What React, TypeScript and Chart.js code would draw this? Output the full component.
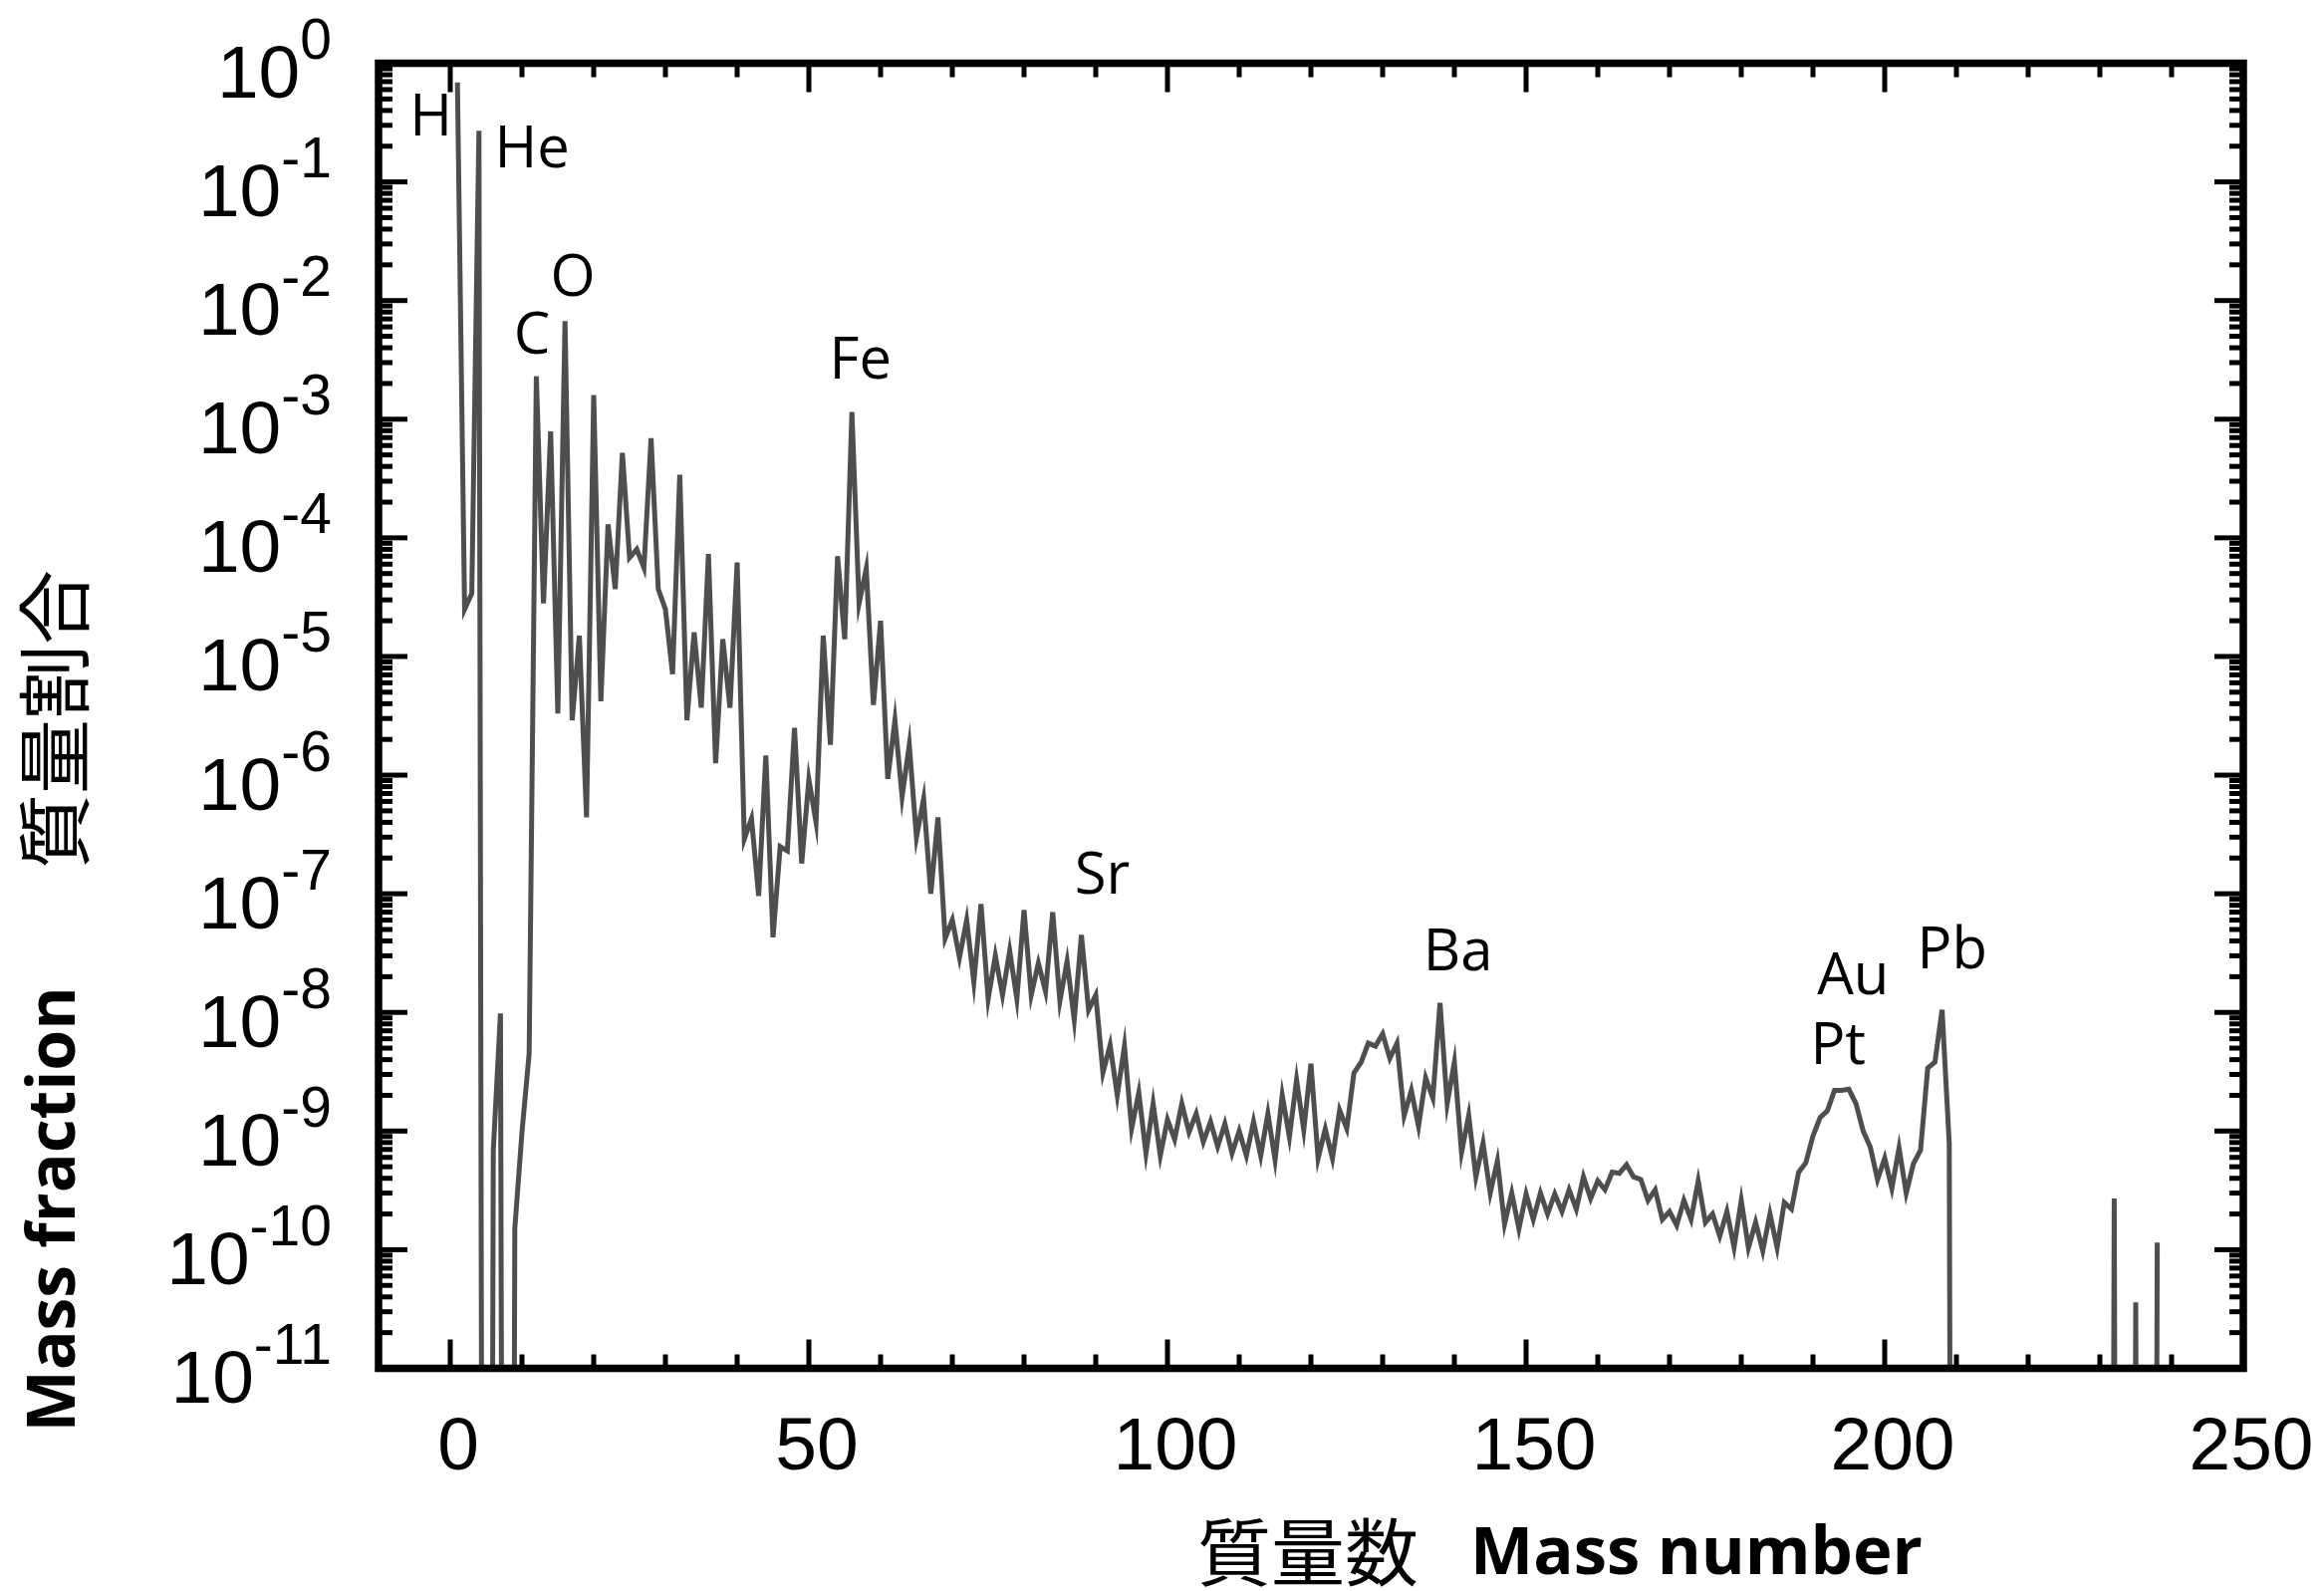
import React, { useEffect, useRef } from 'react';
import { Chart, registerables } from 'chart.js';

Chart.register(...registerables);

// Solar-system mass fraction for mass numbers A = 1 .. 238 (0 = none present)
const massFractions: number[] = [
  // 1-10
  0.69, 2.5e-5, 3.4e-5, 0.27, 0, 6.9e-10, 9.8e-9, 0, 1.5e-10, 9.8e-10,
  // 11-20
  4.5e-9, 2.3e-3, 2.8e-5, 7.9e-4, 3.3e-6, 6.7e-3, 2.9e-6, 1.5e-5, 4.4e-7, 1.6e-3,
  // 21-30
  4.2e-6, 1.3e-4, 3.7e-5, 5.2e-4, 6.8e-5, 8.0e-5, 5.6e-5, 6.9e-4, 3.7e-5, 2.5e-5,
  // 31-40
  7.1e-6, 3.4e-4, 2.9e-6, 1.6e-5, 3.7e-6, 7.3e-5, 1.26e-6, 1.4e-5, 3.7e-6, 6.2e-5,
  // 41-50
  2.9e-7, 4.3e-7, 9.6e-8, 1.46e-6, 4.3e-8, 2.5e-7, 2.3e-7, 2.5e-6, 1.8e-7, 9.2e-7,
  // 51-60
  4.0e-7, 1.5e-5, 1.8e-6, 7.0e-5, 1.4e-5, 1.15e-3, 2.8e-5, 5.5e-5, 3.9e-6, 2.0e-5,
  // 61-70
  9.3e-7, 2.9e-6, 6.6e-7, 1.8e-6, 3.0e-7, 6.3e-7, 1.0e-7, 4.4e-7, 4.2e-8, 6.0e-8,
  // 71-80
  2.9e-8, 6.0e-8, 1.8e-8, 8.2e-8, 1.3e-8, 3.0e-8, 1.4e-8, 3.3e-8, 1.3e-8, 7.3e-8,
  // 81-90
  1.4e-8, 2.6e-8, 1.5e-8, 7.0e-8, 1.25e-8, 2.7e-8, 8.7e-9, 4.5e-8, 1.05e-8, 1.4e-8,
  // 91-100
  3.1e-9, 5.3e-9, 2.0e-9, 5.2e-9, 1.05e-9, 2.1e-9, 6.5e-10, 1.7e-9, 6.2e-10, 1.25e-9,
  // 101-110
  8.5e-10, 1.7e-9, 9.8e-10, 1.4e-9, 8.1e-10, 1.2e-9, 7.4e-10, 1.15e-9, 6.5e-10, 1.0e-9,
  // 111-120
  6.2e-10, 1.2e-9, 6.2e-10, 1.4e-9, 5.7e-10, 2.0e-9, 8.9e-10, 2.7e-9, 1.02e-9, 3.7e-9,
  // 121-130
  5.9e-10, 1.04e-9, 5.9e-10, 1.5e-9, 1.05e-9, 3.1e-9, 3.8e-9, 5.5e-9, 5.2e-9, 6.6e-9,
  // 131-140
  4.1e-9, 5.5e-9, 1.35e-9, 2.2e-9, 1.1e-9, 2.8e-9, 1.9e-9, 1.2e-8, 1.7e-9, 3.8e-9,
  // 141-150
  6.6e-10, 1.35e-9, 4.1e-10, 7.9e-10, 3.0e-10, 5.6e-10, 1.65e-10, 3.0e-10, 1.5e-10, 2.95e-10,
  // 151-160
  1.8e-10, 3.0e-10, 2.0e-10, 2.95e-10, 2.1e-10, 3.2e-10, 2.2e-10, 4.1e-10, 2.7e-10, 3.8e-10,
  // 161-170
  3.2e-10, 4.5e-10, 4.4e-10, 5.2e-10, 4.1e-10, 3.9e-10, 2.6e-10, 3.2e-10, 1.8e-10, 2.1e-10,
  // 171-180
  1.6e-10, 2.6e-10, 1.8e-10, 3.8e-10, 1.7e-10, 2.0e-10, 1.3e-10, 2.1e-10, 1.05e-10, 2.6e-10,
  // 181-190
  1.04e-10, 1.7e-10, 9.8e-11, 2.0e-10, 1.04e-10, 2.5e-10, 2.2e-10, 4.5e-10, 5.4e-10, 9.1e-10,
  // 191-200
  1.3e-9, 1.48e-9, 2.2e-9, 2.2e-9, 2.25e-9, 1.7e-9, 1.0e-9, 7.3e-10, 3.9e-10, 5.9e-10,
  // 201-210
  3.3e-10, 7.2e-10, 3.0e-10, 5.3e-10, 6.9e-10, 3.4e-9, 3.8e-9, 1.05e-8, 7.9e-10, 0,
  // 211-220
  0, 0, 0, 0, 0, 0, 0, 0, 0, 0,
  // 221-230
  0, 0, 0, 0, 0, 0, 0, 0, 0, 0,
  // 231-238
  0, 2.7e-10, 0, 0, 3.6e-11, 0, 0, 1.15e-10,
];
const FIRST_MASS_NUMBER = 1;

// Axes
const X_MIN = -10;
const X_MAX = 250;
const Y_MIN = 1e-11;
const Y_MAX = 1;
const xMajorTicks = [0, 50, 100, 150, 200, 250];
const xTickLabels = ['0', '50', '100', '150', '200', '250'];
const xMinorTicks = [10, 20, 30, 40, 60, 70, 80, 90, 110, 120, 130, 140, 160, 170, 180, 190, 210, 220, 230, 240];
const yTickExponents = [0, -1, -2, -3, -4, -5, -6, -7, -8, -9, -10, -11];
const yMinorMultipliers = [2, 3, 4, 5, 6, 7, 8, 9];

// Element annotations (anchor: centre of text, baseline) in data units
const elementNames = ['H', 'He', 'C', 'O', 'Fe', 'Sr', 'Ba', 'Au', 'Pt', 'Pb'];
const elementLabelX = [-2.7, 11.4, 11.4, 17.1, 57.2, 90.9, 140.5, 195.6, 193.5, 209.4];
const elementLabelY = [2.46e-1, 1.32e-1, 3.6e-3, 1.1e-2, 2.2e-3, 1.0e-7, 2.26e-8, 1.43e-8, 3.7e-9, 2.35e-8];

const xTitleJa = '質量数';
const xTitleEn = 'Mass number';
const yTitleJa = '質量割合';
const yTitleEn = 'Mass fraction';

const LINE_COLOR = '#4e4e50';
const ZERO_FLOOR = 1e-30; // plotted value for "absent" (log scale)

const W = 2333;
const H = 1597;

const decorPlugin = {
  id: 'decor',
  afterDatasetsDraw(chart: any) {
    const { ctx, chartArea: ca, scales } = chart;
    const x = scales.x;
    const y = scales.y;
    ctx.save();
    ctx.strokeStyle = '#000';
    ctx.fillStyle = '#000';
    ctx.lineCap = 'butt';
    const seg = (x1: number, y1: number, x2: number, y2: number) => {
      ctx.beginPath();
      ctx.moveTo(x1, y1);
      ctx.lineTo(x2, y2);
      ctx.stroke();
    };
    const MAJ = 29;
    const MIN = 14;
    ctx.lineWidth = 5;
    for (const v of xMajorTicks) {
      const px = x.getPixelForValue(v);
      seg(px, ca.bottom, px, ca.bottom - MAJ);
      seg(px, ca.top, px, ca.top + MAJ);
    }
    for (const v of xMinorTicks) {
      const px = x.getPixelForValue(v);
      seg(px, ca.bottom, px, ca.bottom - MIN);
      seg(px, ca.top, px, ca.top + MIN);
    }
    for (const e of yTickExponents) {
      const py = y.getPixelForValue(Math.pow(10, e));
      seg(ca.left, py, ca.left + MAJ, py);
      seg(ca.right, py, ca.right - MAJ, py);
      if (e > -11) {
        for (const m of yMinorMultipliers) {
          const pm = y.getPixelForValue(m * Math.pow(10, e - 1));
          seg(ca.left, pm, ca.left + MIN, pm);
          seg(ca.right, pm, ca.right - MIN, pm);
        }
      }
    }
    // frame
    ctx.lineWidth = 7.5;
    ctx.lineJoin = 'miter';
    ctx.strokeRect(ca.left, ca.top, ca.right - ca.left, ca.bottom - ca.top);

    // y tick labels 10^n
    const baseFont = '75px "Liberation Sans", Arial, sans-serif';
    const expFont = '57px "Liberation Sans", Arial, sans-serif';
    const labelRight = ca.left - 47;
    ctx.textBaseline = 'alphabetic';
    for (const e of yTickExponents) {
      const py = y.getPixelForValue(Math.pow(10, e));
      const expText = String(e);
      ctx.font = expFont;
      const we = ctx.measureText(expText).width;
      const xs = labelRight - we;
      ctx.textAlign = 'left';
      ctx.fillText(expText, xs, py + 34.5 - 39);
      ctx.font = baseFont;
      ctx.textAlign = 'right';
      ctx.fillText('10', xs, py + 34.5);
    }
    // x tick labels
    ctx.font = baseFont;
    ctx.textAlign = 'center';
    xMajorTicks.forEach((v, i) => {
      ctx.fillText(xTickLabels[i], x.getPixelForValue(v) + 8, ca.bottom + 101.5);
    });

    // element labels
    ctx.font = '58px "Open Sans", "Noto Sans", sans-serif';
    ctx.textAlign = 'center';
    elementNames.forEach((name, i) => {
      ctx.fillText(name, x.getPixelForValue(elementLabelX[i]), y.getPixelForValue(elementLabelY[i]));
    });

    // x axis title
    ctx.textAlign = 'left';
    ctx.font = '74px "Noto Sans CJK JP", sans-serif';
    ctx.fillText(xTitleJa, 1202, 1586);
    ctx.font = 'bold 67px "Open Sans", "Noto Sans", sans-serif';
    ctx.fillText(xTitleEn, 1476, 1580);

    // y axis title (rotated)
    ctx.save();
    ctx.translate(83, 722);
    ctx.rotate(-Math.PI / 2);
    ctx.textAlign = 'center';
    ctx.font = '75px "Noto Sans CJK JP", sans-serif';
    ctx.fillText(yTitleJa, 0, 0);
    ctx.restore();
    ctx.save();
    ctx.translate(75, 1214);
    ctx.rotate(-Math.PI / 2);
    ctx.textAlign = 'center';
    ctx.font = 'bold 66px "Open Sans", "Noto Sans", sans-serif';
    ctx.fillText(yTitleEn, 0, 0);
    ctx.restore();

    ctx.restore();
  },
};

export default function App() {
  const canvasRef = useRef<HTMLCanvasElement | null>(null);

  useEffect(() => {
    document.body.style.margin = '0';
    const canvas = canvasRef.current;
    if (!canvas) return;
    const points = massFractions.map((v, i) => ({
      x: FIRST_MASS_NUMBER + i,
      y: v > 0 ? v : ZERO_FLOOR,
    }));
    const chart = new Chart(canvas, {
      type: 'line',
      data: {
        datasets: [
          {
            data: points,
            borderColor: LINE_COLOR,
            borderWidth: 5,
            pointRadius: 0,
            tension: 0,
            fill: false,
            borderJoinStyle: 'miter',
          },
        ],
      },
      options: {
        responsive: false,
        animation: false,
        devicePixelRatio: 1,
        layout: { padding: { left: 380, right: 81, top: 63.5, bottom: 223.5 } },
        plugins: {
          legend: { display: false },
          tooltip: { enabled: false },
          title: { display: false },
        },
        scales: {
          x: { type: 'linear', min: X_MIN, max: X_MAX, display: false },
          y: { type: 'logarithmic', min: Y_MIN, max: Y_MAX, display: false },
        },
      },
      plugins: [decorPlugin],
    } as any);
    let alive = true;
    if ((document as any).fonts && (document as any).fonts.ready) {
      (document as any).fonts.ready.then(() => {
        if (alive) chart.draw();
      });
    }
    return () => {
      alive = false;
      chart.destroy();
    };
  }, []);

  return (
    <div style={{ position: 'absolute', left: 0, top: 0, width: W, height: H, background: '#fff' }}>
      <canvas ref={canvasRef} width={W} height={H} style={{ width: W, height: H, display: 'block' }} />
    </div>
  );
}
